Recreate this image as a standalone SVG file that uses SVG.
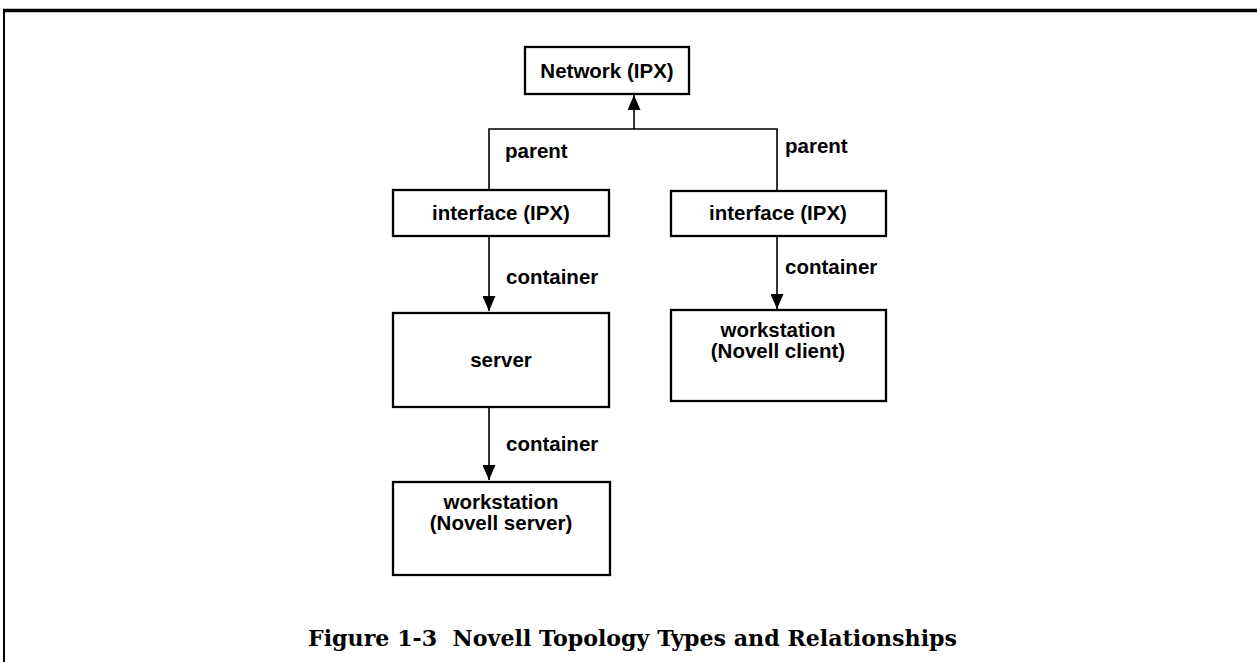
<svg xmlns="http://www.w3.org/2000/svg" width="1257" height="662" viewBox="0 0 1257 662">
<style>
.box{fill:#fff;stroke:#000;stroke-width:2.3}
.ln{fill:none;stroke:#000;stroke-width:1.6}
.t{font-family:"Liberation Sans",Arial,sans-serif;font-weight:bold;font-size:20.5px;fill:#000}
.c{text-anchor:middle}
.cap{font-family:"DejaVu Serif","Liberation Serif",serif;font-weight:bold;font-size:22.5px;fill:#000;white-space:pre}
</style>
<defs>
<marker id="ah" viewBox="0 0 15 13" refX="15" refY="6.5" markerWidth="15" markerHeight="13" markerUnits="userSpaceOnUse" orient="auto">
<path d="M0,0 L15,6.5 L0,13 Z" fill="#000"/>
</marker>
</defs>
<rect width="1257" height="662" fill="#fff"/>
<g id="frame">
<line x1="3" y1="10.5" x2="1257" y2="10.5" stroke="#000" stroke-width="3.5"/>
<line x1="4" y1="9" x2="4" y2="662" stroke="#000" stroke-width="2"/>
</g>
<g id="connectors">
<polyline class="ln" points="489,190 489,129 777,129 777,191"/>
<line class="ln" x1="634" y1="129" x2="634" y2="95" marker-end="url(#ah)"/>
<line class="ln" x1="489" y1="236" x2="489" y2="311" marker-end="url(#ah)"/>
<line class="ln" x1="777" y1="236" x2="777" y2="309" marker-end="url(#ah)"/>
<line class="ln" x1="489" y1="407" x2="489" y2="480" marker-end="url(#ah)"/>
<text class="t" x="505" y="158">parent</text>
<text class="t" x="785" y="153">parent</text>
<text class="t" x="506" y="284">container</text>
<text class="t" x="785" y="274">container</text>
<text class="t" x="506" y="451">container</text>
</g>
<g id="network">
<rect class="box" x="525" y="47" width="164" height="47"/>
<text class="t c" x="607" y="78">Network (IPX)</text>
</g>
<g id="interface-left">
<rect class="box" x="393" y="190" width="216" height="46"/>
<text class="t c" x="501" y="220">interface (IPX)</text>
</g>
<g id="interface-right">
<rect class="box" x="671" y="191" width="215" height="45"/>
<text class="t c" x="778" y="220">interface (IPX)</text>
</g>
<g id="server">
<rect class="box" x="393" y="313" width="216" height="94"/>
<text class="t c" x="501" y="367">server</text>
</g>
<g id="workstation-client">
<rect class="box" x="671" y="310" width="215" height="91"/>
<text class="t c" x="778" y="337">workstation</text>
<text class="t c" x="778" y="358">(Novell client)</text>
</g>
<g id="workstation-server">
<rect class="box" x="393" y="482" width="217" height="93"/>
<text class="t c" x="501" y="509">workstation</text>
<text class="t c" x="501" y="530">(Novell server)</text>
</g>
<g id="caption">
<text class="cap" x="308" y="646" textLength="649" lengthAdjust="spacingAndGlyphs" xml:space="preserve">Figure 1-3  Novell Topology Types and Relationships</text>
</g>
</svg>
